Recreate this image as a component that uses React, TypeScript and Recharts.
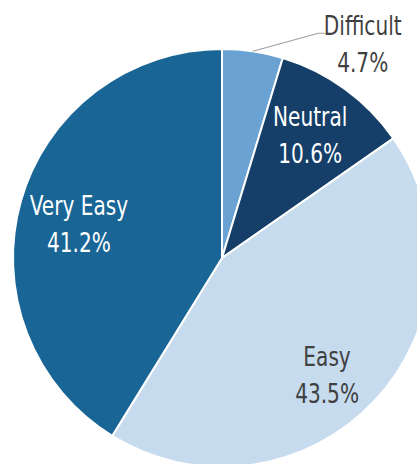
import React from "react";
import { PieChart, Pie, Cell } from "recharts";

const categories = ["Difficult", "Neutral", "Easy", "Very Easy"];
const shares = [4.7, 10.6, 43.5, 41.2];
const percentLabels = ["4.7%", "10.6%", "43.5%", "41.2%"];

const colors = ["#6aa3d3", "#153f69", "#c6dbee", "#186596"];
const textColors = ["#3f3f3f", "#ffffff", "#3f3f3f", "#ffffff"];
// label placement: radius factor relative to outer radius, and angle shift (deg)
const labelRadius = [1.19, 0.69, 0.785, 0.695];
const labelAngleShift = [-26, -1.7, -6.8, 5.9];

const data = categories.map((name, i) => ({ name, value: shares[i], pct: percentLabels[i] }));

const RAD = Math.PI / 180;

const renderLabel = (props: any) => {
  const { cx, cy, midAngle, outerRadius, index } = props;
  const a = (midAngle + labelAngleShift[index]) * RAD;
  const r = outerRadius * labelRadius[index];
  const x = cx + r * Math.cos(a);
  const y = cy - r * Math.sin(a);
  return (
    <text
      transform={`translate(${x},${y}) scale(0.86,1)`}
      x={0}
      y={0}
      textAnchor="middle"
      fill={textColors[index]}
      fontFamily="'DejaVu Sans Condensed', 'DejaVu Sans', sans-serif"
      fontSize={26}
    >
      <tspan x={0} y={-18}>{data[index].name}</tspan>
      <tspan x={0} y={19}>{data[index].pct}</tspan>
    </text>
  );
};

const renderLabelLine = (props: any) => {
  const { cx, cy, midAngle, outerRadius, index } = props;
  if (index !== 0) return <g />;
  const a = midAngle * RAD;
  const x0 = cx + outerRadius * Math.cos(a);
  const y0 = cy - outerRadius * Math.sin(a);
  const ea = 66.8 * RAD;
  const er = outerRadius * 1.17;
  const x1 = cx + er * Math.cos(ea);
  const y1 = cy - er * Math.sin(ea);
  return (
    <polyline
      points={`${x0},${y0} ${x1},${y1} ${x1 + 7},${y1}`}
      fill="none"
      stroke="#a0a0a0"
      strokeWidth={1.2}
    />
  );
};

export default function App() {
  return (
    <div style={{ position: "fixed", left: 0, top: 0, width: 417, height: 464, background: "#fff" }}>
      <PieChart width={417} height={464}>
        <Pie
          data={data}
          dataKey="value"
          nameKey="name"
          cx={217}
          cy={253}
          outerRadius={209}
          startAngle={90}
          endAngle={-270}
          stroke="#ffffff"
          strokeWidth={2}
          label={renderLabel}
          labelLine={renderLabelLine}
          isAnimationActive={false}
        >
          {data.map((d, i) => (
            <Cell key={d.name} fill={colors[i]} />
          ))}
        </Pie>
      </PieChart>
    </div>
  );
}
